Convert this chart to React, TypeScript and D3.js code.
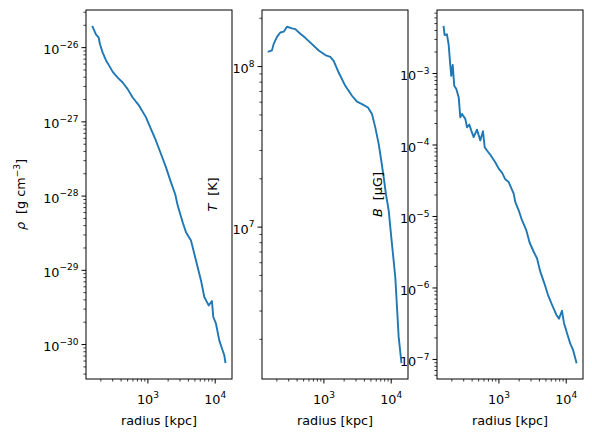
import * as React from 'react';
import * as d3 from 'd3';

const dimensions = { width: 592, height: 441 };
const plot = { top: 10, bottom: 379, width: 146 };
const font = '"DejaVu Sans", sans-serif';

// radial profiles, radius in kpc
const rhoRadius = [151, 169, 186, 194, 213, 238, 267, 300, 356, 422, 501, 594, 745, 937, 1112, 1318, 1565, 1857, 2203, 2553, 2772, 3289, 3681, 4366, 5183, 6150, 6887, 7998, 8954, 9367, 10270, 11500, 12617, 13646, 14160];
const rhoValues = [1.91e-26, 1.51e-26, 1.36e-26, 1.11e-26, 8.57e-27, 6.77e-27, 5.68e-27, 4.71e-27, 3.95e-27, 3.39e-27, 2.76e-27, 2.13e-27, 1.64e-27, 1.15e-27, 8.0e-28, 5.57e-28, 3.69e-28, 2.44e-28, 1.53e-28, 1.05e-28, 7.45e-29, 4.45e-29, 3.26e-29, 2.52e-29, 1.36e-29, 7.31e-30, 4.37e-30, 3.37e-30, 3.85e-30, 2.35e-30, 1.91e-30, 1.14e-30, 8.83e-31, 7.18e-31, 5.78e-31];

const tempRadius = [151, 169, 179, 201, 225, 253, 283, 336, 376, 446, 529, 665, 837, 1049, 1245, 1397, 1659, 2080, 2614, 3102, 3681, 4519, 5183, 5800, 6516, 7124, 7730, 8366, 9175, 10023, 11500, 12190, 12912, 14160];
const tempValues = [1.24e8, 1.26e8, 1.38e8, 1.53e8, 1.63e8, 1.65e8, 1.77e8, 1.73e8, 1.71e8, 1.6e8, 1.51e8, 1.38e8, 1.26e8, 1.18e8, 1.15e8, 1.085e8, 9.18e7, 7.59e7, 6.58e7, 6.04e7, 5.84e7, 5.56e7, 5.06e7, 4.18e7, 3.3e7, 2.59e7, 2.05e7, 1.6e7, 1.27e7, 8.67e6, 4.89e6, 3.18e6, 2.07e6, 1.44e6];

const bRadius = [151, 156, 169, 179, 190, 196, 206, 217, 233, 253, 267, 283, 317, 336, 363, 389, 422, 472, 529, 580, 615, 665, 745, 883, 993, 1112, 1245, 1397, 1659, 1751, 1968, 2203, 2553, 2866, 3289, 3681, 4121, 4722, 5358, 6150, 7124, 7813, 8650, 9268, 10270, 11500, 12617, 14160];
const bValues = [4.51e-3, 3.46e-3, 3.54e-3, 2.57e-3, 1.28e-3, 9.29e-4, 1.32e-3, 6.74e-4, 6.06e-4, 4.63e-4, 2.44e-4, 2.72e-4, 2.32e-4, 1.77e-4, 1.93e-4, 1.59e-4, 1.29e-4, 1.64e-4, 1.16e-4, 1.56e-4, 9.31e-5, 8.38e-5, 7.3e-5, 5.75e-5, 4.67e-5, 4.1e-5, 3.31e-5, 3.03e-5, 2.09e-5, 1.6e-5, 1.22e-5, 8.87e-6, 6.44e-6, 4.29e-6, 3.21e-6, 2.6e-6, 1.69e-6, 1.17e-6, 8.02e-7, 5.82e-7, 4.22e-7, 3.72e-7, 4.8e-7, 3.24e-7, 2.34e-7, 1.66e-7, 1.37e-7, 9.14e-8];

const xLabel = 'radius [kpc]';

// matplotlib-style autoscale: 5% margin in log space
function logDomain(values: number[]): [number, number] {
  const [lo, hi] = d3.extent(values) as [number, number];
  const a = Math.log10(lo);
  const b = Math.log10(hi);
  const pad = (b - a) * 0.05;
  return [10 ** (a - pad), 10 ** (b + pad)];
}

function logTicks([lo, hi]: [number, number]) {
  const major: { v: number; e: number }[] = [];
  const minor: number[] = [];
  for (let e = Math.floor(Math.log10(lo)); e <= Math.ceil(Math.log10(hi)); e++) {
    for (let k = 1; k <= 9; k++) {
      const v = k * 10 ** e;
      if (v < lo || v > hi) continue;
      if (k === 1) major.push({ v, e });
      else minor.push(v);
    }
  }
  return { major, minor };
}

const expText = (e: number) => (e < 0 ? `\u2212${-e}` : `${e}`);

interface PanelProps {
  left: number;
  radius: number[];
  values: number[];
  labelX: number;
  label: React.ReactNode;
}

const Panel: React.FC<PanelProps> = ({ left, radius, values, labelX, label }) => {
  const xDomain = logDomain(radius);
  const yDomain = logDomain(values);
  const x = d3.scaleLog(xDomain, [left, left + plot.width]);
  const y = d3.scaleLog(yDomain, [plot.bottom, plot.top]);
  const xt = logTicks(xDomain);
  const yt = logTicks(yDomain);

  const line = d3
    .line<number>()
    .x((_, i) => x(radius[i]))
    .y((d) => y(d));

  const midY = (plot.top + plot.bottom) / 2;

  return (
    <g fontFamily={font}>
      <path
        d={line(values) ?? ''}
        fill="none"
        stroke="#1f77b4"
        strokeWidth={1.9}
        strokeLinejoin="round"
        strokeLinecap="square"
      />
      <rect
        x={left}
        y={plot.top}
        width={plot.width}
        height={plot.bottom - plot.top}
        fill="none"
        stroke="black"
        strokeWidth={1}
      />
      {/* x ticks */}
      {xt.minor.map((v) => (
        <line key={`xm${v}`} x1={x(v)} x2={x(v)} y1={plot.bottom} y2={plot.bottom + 2.6} stroke="black" strokeWidth={0.75} />
      ))}
      {xt.major.map(({ v, e }) => (
        <g key={`xM${e}`}>
          <line x1={x(v)} x2={x(v)} y1={plot.bottom} y2={plot.bottom + 4.5} stroke="black" strokeWidth={1} />
          <text x={x(v)} y={plot.bottom + 25} textAnchor="middle" fontSize={12.8} fill="black">
            10<tspan dy={-6.3} fontSize={9}>{expText(e)}</tspan>
          </text>
        </g>
      ))}
      {/* y ticks */}
      {yt.minor.map((v) => (
        <line key={`ym${v}`} x1={left - 2.6} x2={left} y1={y(v)} y2={y(v)} stroke="black" strokeWidth={0.75} />
      ))}
      {yt.major.map(({ v, e }) => (
        <g key={`yM${e}`}>
          <line x1={left - 4.5} x2={left} y1={y(v)} y2={y(v)} stroke="black" strokeWidth={1} />
          <text x={left - 7.5} y={y(v) + 6.6} textAnchor="end" fontSize={12.8} fill="black">
            10<tspan dy={-6.5} fontSize={9}>{expText(e)}</tspan>
          </text>
        </g>
      ))}
      <text x={left + plot.width / 2} y={424.5} textAnchor="middle" fontSize={12.8} fill="black">
        {xLabel}
      </text>
      <text
        transform={`translate(${labelX}, ${midY}) rotate(-90)`}
        textAnchor="middle"
        fontSize={12.8}
        fill="black"
      >
        {label}
      </text>
    </g>
  );
};

const App: React.FC = () => (
  <svg
    width={dimensions.width}
    height={dimensions.height}
    viewBox={`0 0 ${dimensions.width} ${dimensions.height}`}
    style={{ position: 'absolute', left: 0, top: 0, background: 'white' }}
  >
    <rect width={dimensions.width} height={dimensions.height} fill="white" />
    <Panel
      left={86}
      radius={rhoRadius}
      values={rhoValues}
      labelX={24.5}
      label={
        <>
          <tspan fontStyle="italic">ρ</tspan>
          <tspan dx={8}>[g cm</tspan>
          <tspan dy={-5} fontSize={9}>{'\u22123'}</tspan>
          <tspan dy={5}>]</tspan>
        </>
      }
    />
    <Panel
      left={262}
      radius={tempRadius}
      values={tempValues}
      labelX={216.5}
      label={
        <>
          <tspan fontStyle="italic">T</tspan>
          <tspan dx={8}>[K]</tspan>
        </>
      }
    />
    <Panel
      left={437}
      radius={bRadius}
      values={bValues}
      labelX={381.5}
      label={
        <>
          <tspan fontStyle="italic">B</tspan>
          <tspan dx={8}>[μG]</tspan>
        </>
      }
    />
  </svg>
);

export default App;
